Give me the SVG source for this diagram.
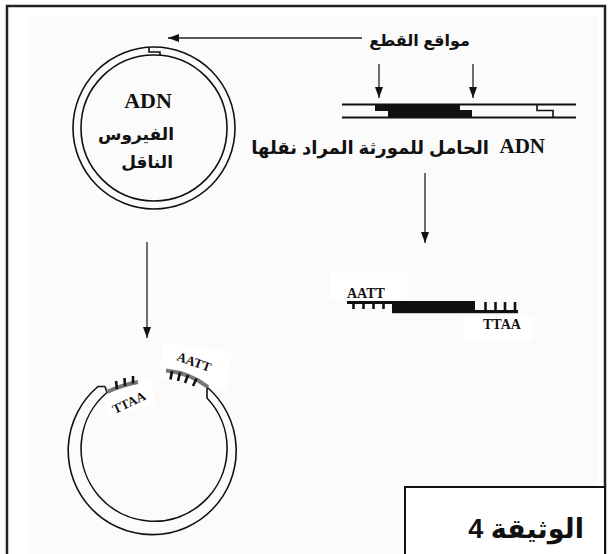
<svg xmlns="http://www.w3.org/2000/svg" width="613" height="554" viewBox="0 0 613 554">
  <style>
    .ln { fill: none; stroke: #111; stroke-width: 1.6; }
    .strand { fill: none; stroke: #111; stroke-width: 1.8; }
    .arr { fill: none; stroke: #222; stroke-width: 1.3; marker-end: url(#head); }
    .tick { stroke: #111; stroke-width: 2.6; stroke-linecap: butt; }
    .over { fill: none; stroke: #777; stroke-width: 4; stroke-linecap: butt; }
    .ar { font-family: "Liberation Sans", "DejaVu Sans", sans-serif; font-weight: bold; fill: #111; direction: rtl; }
    .lat { font-family: "Liberation Serif", "Times New Roman", serif; font-weight: bold; fill: #111; }
    .patch { fill: #ffffff; }
  </style>
  <defs>
    <marker id="head" markerUnits="userSpaceOnUse" markerWidth="12" markerHeight="10" refX="11" refY="4" orient="auto">
      <path d="M0,0 L11,4 L0,8 Z" fill="#111"/>
    </marker>
  </defs>

  <!-- page -->
  <rect x="0" y="0" width="613" height="554" fill="#ffffff"/>
  <rect x="27" y="17" width="571" height="540" fill="#fbfbfb"/>
  <rect x="7" y="6" width="598" height="560" fill="none" stroke="#222" stroke-width="2.5"/>

  <!-- connectors -->
  <g id="connectors">
    <line class="arr" x1="362" y1="38" x2="168" y2="38"/>
    <line class="arr" x1="379" y1="64" x2="379" y2="98"/>
    <line class="arr" x1="473" y1="64" x2="473" y2="98"/>
    <line class="arr" x1="425" y1="173" x2="425" y2="243"/>
    <line class="arr" x1="147" y1="242" x2="147" y2="338"/>
  </g>

  <!-- cut-site label -->
  <g id="cut-sites">
    <text class="ar" x="470" y="46" font-size="16" text-anchor="start">مواقع القطع</text>
  </g>

  <!-- vector plasmid -->
  <g id="vector">
    <circle cx="154" cy="128" r="81" class="ln"/>
    <circle cx="154" cy="128" r="73" class="ln"/>
    <path class="ln" d="M149,47 L149,52 L160,52 L160,55.5"/>
    <text class="lat" x="148" y="108" font-size="22" text-anchor="middle">ADN</text>
    <text class="ar" x="174" y="140" font-size="17" text-anchor="start">الفيروس</text>
    <text class="ar" x="173" y="168" font-size="17" text-anchor="start">الناقل</text>
  </g>

  <!-- donor DNA -->
  <g id="donor">
    <line class="strand" x1="342" y1="104.5" x2="576" y2="104.5"/>
    <line class="strand" x1="342" y1="117.5" x2="576" y2="117.5"/>
    <path d="M375,104 L460,104 L460,110 L472,110 L472,118 L388,118 L388,111 L375,111 Z" fill="#111"/>
    <path class="ln" d="M537,105 L537,110.5 L553,110.5 L553,117"/>
    <text class="lat" x="545" y="153" font-size="21" text-anchor="end">ADN</text>
    <text class="ar" x="489" y="154" font-size="18" text-anchor="start">الحامل للمورثة المراد نقلها</text>
  </g>

  <!-- cut gene fragment -->
  <g id="fragment">
    <rect class="patch" x="330" y="273" width="77" height="26"/>
    <rect class="patch" x="463" y="317" width="70" height="23"/>
    <text class="lat" x="347" y="298" font-size="14">AATT</text>
    <rect x="347" y="301" width="128" height="3" fill="#111"/>
    <rect x="392" y="301" width="83" height="12" fill="#111"/>
    <rect x="392" y="310" width="126" height="3.2" fill="#111"/>
    <line class="tick" x1="353.5" y1="303" x2="353.5" y2="309"/>
    <line class="tick" x1="363.5" y1="303" x2="363.5" y2="309"/>
    <line class="tick" x1="373.5" y1="303" x2="373.5" y2="309"/>
    <line class="tick" x1="383.5" y1="303" x2="383.5" y2="309"/>
    <line class="tick" x1="485.5" y1="302" x2="485.5" y2="311"/>
    <line class="tick" x1="495.5" y1="302" x2="495.5" y2="311"/>
    <line class="tick" x1="505" y1="302" x2="505" y2="311"/>
    <line class="tick" x1="515" y1="302" x2="515" y2="311"/>
    <text class="lat" x="483" y="329" font-size="14">TTAA</text>
  </g>

  <!-- opened plasmid -->
  <g id="opened">
    <path class="patch" d="M163,343 L232,352 L226,390 L160,378 Z"/>
    <path class="patch" d="M103,392 L150,378 L156,404 L110,416 Z"/>
    <path class="ln" d="M105,386.5 L98,386.5 A84,84 0 1 0 207,387 L207,398 A73,73 0 1 1 107,392.5 L105,386.5"/>
    <path class="over" d="M107,392 Q122,385 138,382"/>
    <line class="tick" x1="117" y1="389" x2="116" y2="381" stroke-width="2"/>
    <line class="tick" x1="125" y1="386" x2="124.5" y2="378" stroke-width="2"/>
    <line class="tick" x1="133" y1="383.5" x2="133" y2="376" stroke-width="2"/>
    <path class="over" d="M166,370.5 Q190,373 208,387"/>
    <line class="tick" x1="172" y1="371" x2="170.5" y2="379.5" stroke-width="2"/>
    <line class="tick" x1="180" y1="372.5" x2="178" y2="381" stroke-width="2"/>
    <line class="tick" x1="188" y1="375" x2="185" y2="383" stroke-width="2"/>
    <line class="tick" x1="196.5" y1="378.5" x2="193" y2="386" stroke-width="2"/>
    <text class="lat" x="0" y="0" font-size="13" transform="translate(176,360) rotate(20)">AATT</text>
    <text class="lat" x="0" y="0" font-size="13" transform="translate(115,414) rotate(-25)">TTAA</text>
  </g>

  <!-- caption -->
  <g id="caption">
    <rect x="405" y="487" width="200" height="80" fill="#ffffff" stroke="#111" stroke-width="2"/>
    <text class="ar" x="584" y="538" font-size="27" text-anchor="start">الوثيقة 4</text>
  </g>
</svg>
